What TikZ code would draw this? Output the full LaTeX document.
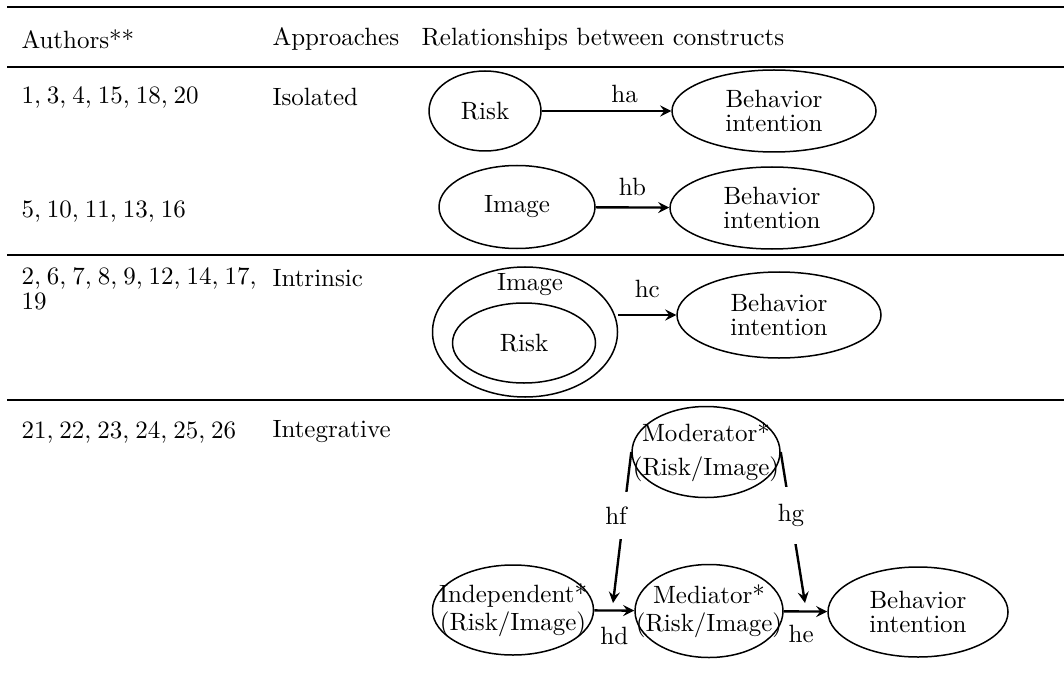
\documentclass[tikz,border=0pt]{standalone}
\usetikzlibrary{arrows}
\usetikzlibrary{shapes,positioning}
\tikzset{>=stealth}
\newcommand\tightsp{\spaceskip 2.4pt\relax}

\begin{document}
\begin{tikzpicture}[x=.4pt,y=-.4pt,
    oval/.style={ellipse,draw,line width=.6pt,inner sep=0pt},
    txt/.style={anchor=west,inner sep=0pt},
    nums/.style={txt,font=\tightsp},
    lbl/.style={inner sep=1pt},
    rule/.style={line width=1.1pt},
    link/.style={->,line width=.95pt}]
  \useasboundingbox (0,0) rectangle (1064,672);

  % table rules
  \draw[rule] (7,7) -- (1064,7);
  \draw[rule] (7,67) -- (1064,67);
  \draw[rule] (7,255) -- (1064,255);
  \draw[rule] (7,400) -- (1064,400);

  % header
  \node[txt] (hauth) at (21,39) {Authors**};
  \node[txt] (happr) at (272,39) {Approaches};
  \node[txt] (hrel) at (421,39) {Relationships between constructs};

  % first two columns
  \node[nums] (auth1) at (21,97) {1, 3, 4, 15, 18, 20};
  \node[txt] (appr1) at (272,97) {Isolated};
  \node[nums] (auth2) at (21,212) {5, 10, 11, 13, 16};
  \node[nums,align=left] (auth3) at (21,289) {2, 6, 7, 8, 9, 12, 14, 17,\\[-2pt]19};
  \node[txt] (appr3) at (272,278) {Intrinsic};
  \node[nums] (auth4) at (21,432) {21, 22, 23, 24, 25, 26};
  \node[txt] (appr4) at (272,432) {Integrative};

  % isolated
  \node[oval,minimum width=44.8pt,minimum height=32pt] (risk1) at (485,111) {Risk};
  \node[oval,minimum width=81.6pt,minimum height=32.8pt,align=center] (beh1) at (774,111) {Behavior\\[-2.5pt]intention};
  \draw[link] (risk1) -- node[lbl,above=2pt,pos=.64] {ha} (beh1);

  \node[oval,minimum width=62.4pt,minimum height=33.2pt] (img2) at (517,207) {Image};
  \node[oval,minimum width=81.6pt,minimum height=32.8pt,align=center] (beh2) at (772,208) {Behavior\\[-2.5pt]intention};
  \draw[link] (img2) -- node[lbl,above=3pt] {hb} (beh2);

  % intrinsic
  \node[oval,minimum width=74pt,minimum height=52pt] (img3) at (525,332) {};
  \node[lbl] (img3t) at (530,285) {Image};
  \node[oval,minimum width=57.2pt,minimum height=32pt] (risk3) at (524,343) {Risk};
  \node[oval,minimum width=81.6pt,minimum height=34.4pt,align=center] (beh3) at (779,315) {Behavior\\[-2.5pt]intention};
  \draw[link] (img3.east |- beh3.west) -- node[lbl,above=5.5pt] {hc} (beh3.west);

  % integrative
  \node[oval,minimum width=59.2pt,minimum height=36.4pt,
    label={[lbl,align=center]center:Moderator*\\[1.6pt](Risk/Image)}] (mod) at (706,452) {};
  \node[oval,minimum width=64.4pt,minimum height=36pt,
    label={[lbl,align=center]center:Independent*\\[-.8pt](Risk/Image)}] (ind) at (513,610) {};
  \node[oval,minimum width=59.2pt,minimum height=37.2pt,
    label={[lbl,align=center]center:Mediator*\\[-.8pt](Risk/Image)}] (med) at (709,611) {};
  \node[oval,minimum width=72pt,minimum height=36pt,align=center] (beh4) at (918,612) {Behavior\\[-2.5pt]intention};
  \coordinate (hftip) at (613,603);
  \coordinate (hgtip) at (805,603);

  \draw[link] (ind) -- node[lbl,below=5pt] {hd} (med);
  \draw[link] (med) -- node[lbl,below=4pt,pos=.4] {he} (beh4);
  \draw[link] (mod.west) -- node[lbl,pos=.42,fill=white,inner ysep=6pt,xshift=-3pt] {hf} (hftip);
  \draw[link] (mod.east) -- node[lbl,pos=.42,fill=white,inner ysep=7pt] {hg} (hgtip);
\end{tikzpicture}
\end{document}
